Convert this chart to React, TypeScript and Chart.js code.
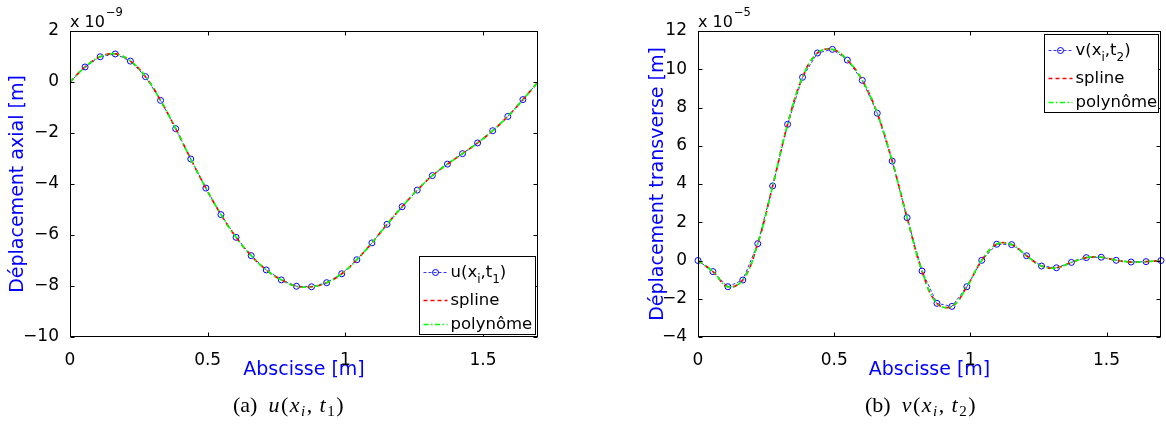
import React, { useEffect, useRef } from 'react';
import { Chart, registerables } from 'chart.js';

Chart.register(...registerables);

// Abscissa of the sampled points [m]
const xPositions = [
  0, 0.0548, 0.1097, 0.1645, 0.2194, 0.2742, 0.329, 0.3839, 0.4387, 0.4935,
  0.5484, 0.6032, 0.6581, 0.7129, 0.7677, 0.8226, 0.8774, 0.9323, 0.9871, 1.0419,
  1.0968, 1.1516, 1.2065, 1.2613, 1.3161, 1.371, 1.4258, 1.4806, 1.5355, 1.5903,
  1.6452, 1.7,
];
const xTickValues = [0, 0.5, 1, 1.5];

// (a) axial displacement, units of 1e-9 m
const uValues = [
  0, 0.59, 0.99, 1.1, 0.82, 0.21, -0.72, -1.83, -3.02, -4.16,
  -5.2, -6.09, -6.81, -7.37, -7.76, -8.01, -8.03, -7.87, -7.52, -6.97,
  -6.31, -5.58, -4.89, -4.24, -3.67, -3.22, -2.81, -2.39, -1.91, -1.35,
  -0.69, 0,
];
const uSpline = uValues;
const uPoly = uValues;
const yTickValuesA = [-10, -8, -6, -4, -2, 0, 2];

// (b) transverse displacement, units of 1e-5 m
const vValues = [
  0, -0.58, -1.37, -1.02, 0.88, 3.9, 7.12, 9.58, 10.85, 11.04,
  10.48, 9.42, 7.7, 5.2, 2.24, -0.55, -2.24, -2.4, -1.37, 0.01,
  0.85, 0.83, 0.25, -0.29, -0.38, -0.1, 0.15, 0.17, 0.01, -0.08,
  -0.06, 0,
];
const vSpline = vValues;
const vPoly = vValues;
const yTickValuesB = [-4, -2, 0, 2, 4, 6, 8, 10, 12];

const FONT = '"DejaVu Sans", "Liberation Sans", Arial, sans-serif';
const BLUE = '#0000ff';
const RED = '#ff0000';
const GREEN = '#00ff00';

const fmt = (v: any) => {
  const n = Number(v);
  return n < 0 ? '\u2212' + String(Math.abs(n)) : String(n);
};

type Panel = {
  values: number[];
  spline: number[];
  poly: number[];
  yMin: number;
  yMax: number;
  yTicks: number[];
  yTitle: string;
  exponent: string;
  legendVar: string;
  legendSub: string;
  legendPos: 'top' | 'bottom';
  legendWidth: number;
  padLeft: number;
  padRight: number;
  yTitlePad: number;
  hideEndMarkers: boolean;
};

const framePlugin = {
  id: 'matlabFrame',
  afterDraw(chart: any) {
    const cfg: Panel = chart.options.plugins.matlabFrame;
    const { ctx, chartArea } = chart;
    const { left, right, top, bottom } = chartArea;
    const xs = chart.scales.x;
    const ys = chart.scales.y;
    ctx.save();
    ctx.strokeStyle = '#000';
    ctx.lineWidth = 1;
    ctx.setLineDash([]);
    const L = Math.round(left) + 0.5;
    const R = Math.round(right) - 0.5;
    const T = Math.round(top) + 0.5;
    const B = Math.round(bottom) - 0.5;
    ctx.strokeRect(L, T, R - L, B - T);
    const tl = 4;
    ctx.beginPath();
    xs.ticks.forEach((t: any) => {
      const px = Math.round(xs.getPixelForValue(t.value)) + 0.5;
      ctx.moveTo(px, B);
      ctx.lineTo(px, B - tl);
      ctx.moveTo(px, T);
      ctx.lineTo(px, T + tl);
    });
    ys.ticks.forEach((t: any) => {
      const py = Math.round(ys.getPixelForValue(t.value)) + 0.5;
      ctx.moveTo(L, py);
      ctx.lineTo(L + tl, py);
      ctx.moveTo(R, py);
      ctx.lineTo(R - tl, py);
    });
    ctx.stroke();

    // exponent label
    ctx.fillStyle = '#000';
    ctx.textAlign = 'left';
    ctx.textBaseline = 'alphabetic';
    ctx.font = `16px ${FONT}`;
    const base = 'x 10';
    ctx.fillText(base, left, 27);
    const bw = ctx.measureText(base).width;
    ctx.font = `11.5px ${FONT}`;
    ctx.fillText(cfg.exponent, left + bw + 1, 16);

    // legend
    const w = cfg.legendWidth;
    const h = 78;
    const x0 = Math.round(right - 3 - w) + 0.5;
    const y0 = cfg.legendPos === 'top' ? Math.round(top + 3) + 0.5 : Math.round(bottom - 3 - h) + 0.5;
    ctx.fillStyle = '#fff';
    ctx.fillRect(x0, y0, w, h);
    ctx.strokeStyle = '#000';
    ctx.lineWidth = 1;
    ctx.strokeRect(x0, y0, w, h);
    const rows = [y0 + 16, y0 + 44, y0 + 68];
    const sx0 = x0 + 4;
    const sx1 = x0 + 28;
    // row 0
    ctx.strokeStyle = BLUE;
    ctx.lineWidth = 0.8;
    ctx.setLineDash([3, 2]);
    ctx.beginPath();
    ctx.moveTo(sx0, rows[0]);
    ctx.lineTo(sx1, rows[0]);
    ctx.stroke();
    ctx.setLineDash([]);
    ctx.lineWidth = 1;
    ctx.beginPath();
    ctx.arc((sx0 + sx1) / 2, rows[0], 3, 0, Math.PI * 2);
    ctx.stroke();
    // row 1
    ctx.strokeStyle = RED;
    ctx.lineWidth = 1.6;
    ctx.setLineDash([4, 3]);
    ctx.beginPath();
    ctx.moveTo(sx0, rows[1]);
    ctx.lineTo(sx1, rows[1]);
    ctx.stroke();
    // row 2
    ctx.strokeStyle = GREEN;
    ctx.setLineDash([5, 2.5, 1.5, 2.5]);
    ctx.beginPath();
    ctx.moveTo(sx0, rows[2]);
    ctx.lineTo(sx1, rows[2]);
    ctx.stroke();
    ctx.setLineDash([]);

    // legend texts
    const tx = x0 + 31;
    ctx.fillStyle = '#000';
    ctx.textBaseline = 'middle';
    const big = `16.5px ${FONT}`;
    const small = `12px ${FONT}`;
    let cx = tx;
    const put = (s: string, f: string, dy: number) => {
      ctx.font = f;
      ctx.fillText(s, cx, rows[0] + dy);
      cx += ctx.measureText(s).width;
    };
    put(cfg.legendVar + '(x', big, 0);
    put('i', small, 7);
    put(',t', big, 0);
    put(cfg.legendSub, small, 7);
    put(')', big, 0);
    ctx.font = big;
    ctx.fillText('spline', tx, rows[1]);
    ctx.fillText('polyn\u00f4me', tx, rows[2]);
    ctx.restore();
  },
};

function buildChart(canvas: HTMLCanvasElement, p: Panel) {
  const pts = (vals: number[]) => xPositions.map((x, i) => ({ x, y: vals[i] }));
  const last = xPositions.length - 1;
  const markerRadius = (c: any) => (p.hideEndMarkers && (c.dataIndex === 0 || c.dataIndex === last) ? 0 : 3);
  return new Chart(canvas, {
    type: 'line',
    data: {
      datasets: [
        {
          label: 'data',
          data: pts(p.values),
          borderColor: BLUE,
          borderWidth: 0.8,
          borderDash: [3, 2],
          pointRadius: markerRadius,
          pointBorderColor: BLUE,
          pointBackgroundColor: 'rgba(0,0,0,0)',
          pointBorderWidth: 1,
          tension: 0,
          order: 3,
          clip: false,
        },
        {
          label: 'spline',
          data: pts(p.spline),
          borderColor: RED,
          borderWidth: 1.7,
          borderDash: [5, 4],
          pointRadius: 0,
          tension: 0.4,
          order: 2,
        },
        {
          label: 'polyn\u00f4me',
          data: pts(p.poly),
          borderColor: GREEN,
          borderWidth: 1.7,
          borderDash: [5, 3, 1.5, 3],
          pointRadius: 0,
          tension: 0.4,
          order: 1,
        },
      ] as any,
    },
    options: {
      responsive: false,
      animation: false,
      layout: { padding: { left: p.padLeft, right: p.padRight, top: 31, bottom: 43 } },
      plugins: {
        legend: { display: false },
        tooltip: { enabled: false },
        matlabFrame: p,
      } as any,
      scales: {
        x: {
          type: 'linear',
          min: 0,
          max: 1.7,
          afterBuildTicks: (s: any) => {
            s.ticks = xTickValues.map((v) => ({ value: v }));
          },
          afterFit: (s: any) => {
            s.height = 50;
          },
          grid: { display: false },
          border: { display: false },
          ticks: { padding: 5, color: '#000', font: { family: FONT, size: 17 }, callback: fmt, maxRotation: 0, autoSkip: false },
          title: {
            display: true,
            text: 'Abscisse [m]',
            color: BLUE,
            font: { family: FONT, size: 19 },
            padding: { top: 0, bottom: 5.6 },
          },
        },
        y: {
          type: 'linear',
          min: p.yMin,
          max: p.yMax,
          afterBuildTicks: (s: any) => {
            s.ticks = p.yTicks.map((v) => ({ value: v }));
          },
          afterFit: (s: any) => {
            s.width = 70;
          },
          grid: { display: false },
          border: { display: false },
          ticks: { padding: 3, color: '#000', font: { family: FONT, size: 17 }, callback: fmt, autoSkip: false },
          title: {
            display: true,
            text: p.yTitle,
            color: BLUE,
            font: { family: FONT, size: 19 },
            padding: { top: p.yTitlePad, bottom: 0 },
          },
        },
      },
    } as any,
    plugins: [framePlugin as any],
  });
}

const panelA: Panel = {
  values: uValues,
  spline: uSpline,
  poly: uPoly,
  yMin: -10,
  yMax: 2,
  yTicks: yTickValuesA,
  yTitle: 'D\u00e9placement axial [m]',
  exponent: '\u22129',
  legendVar: 'u',
  legendSub: '1',
  legendPos: 'bottom',
  legendWidth: 116,
  padLeft: 0,
  padRight: 42,
  yTitlePad: 6.6,
  hideEndMarkers: true,
};

const panelB: Panel = {
  values: vValues,
  spline: vSpline,
  poly: vPoly,
  yMin: -4,
  yMax: 12,
  yTicks: yTickValuesB,
  yTitle: 'D\u00e9placement transverse [m]',
  exponent: '\u22125',
  legendVar: 'v',
  legendSub: '2',
  legendPos: 'top',
  legendWidth: 114,
  padLeft: 48,
  padRight: 1,
  yTitlePad: 18.6,
  hideEndMarkers: false,
};

function ChartCanvas({ panel, width, left }: { panel: Panel; width: number; left: number }) {
  const ref = useRef<HTMLCanvasElement | null>(null);
  useEffect(() => {
    if (!ref.current) return;
    const c = buildChart(ref.current, panel);
    return () => c.destroy();
  }, [panel]);
  return (
    <canvas
      ref={ref}
      width={width}
      height={430}
      style={{ position: 'absolute', left, top: 0, width, height: 430 }}
    />
  );
}

const capStyle: React.CSSProperties = {
  position: 'absolute',
  top: 393,
  width: 240,
  textAlign: 'center',
  fontFamily: '"Liberation Serif", "DejaVu Serif", serif',
  fontSize: 22,
  lineHeight: '24px',
  whiteSpace: 'nowrap',
  color: '#000',
};
const mathStyle: React.CSSProperties = { letterSpacing: '1.5px' };
const subStyle: React.CSSProperties = { fontSize: 15, verticalAlign: '-4px', lineHeight: 0 };

function Caption({ label, v, sub, center }: { label: string; v: string; sub: string; center: number }) {
  return (
    <div style={{ ...capStyle, left: center - 120 }}>
      {label}&nbsp;&nbsp;
      <span style={mathStyle}>
        <i>{v}</i>(<i>x</i>
        <i style={subStyle}>i</i>,&thinsp;<i>t</i>
        <span style={subStyle}>{sub}</span>)
      </span>
    </div>
  );
}

export default function App() {
  return (
    <div style={{ position: 'fixed', left: 0, top: 0, width: 1166, height: 430, background: '#fff', overflow: 'hidden' }}>
      <ChartCanvas panel={panelA} width={580} left={0} />
      <ChartCanvas panel={panelB} width={586} left={580} />
      <Caption label="(a)" v="u" sub="1" center={289} />
      <Caption label="(b)" v="v" sub="2" center={921} />
    </div>
  );
}
